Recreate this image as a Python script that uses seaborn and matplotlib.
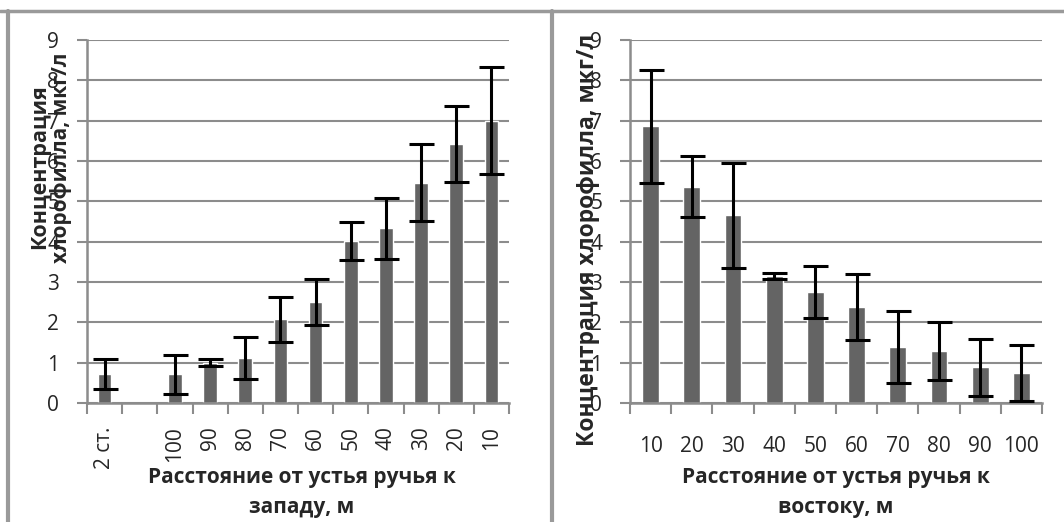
import numpy as np
import pandas as pd
import matplotlib
matplotlib.use("Agg")
import matplotlib.pyplot as plt
from matplotlib.lines import Line2D
import seaborn as sns

# Данные: к западу от устья ручья
west_labels = ["2 ст.", " ", "100", "90", "80", "70", "60", "50", "40", "30", "20", "10"]
west_values = [0.72, np.nan, 0.71, 1.00, 1.11, 2.07, 2.50, 4.02, 4.33, 5.46, 6.42, 7.00]
west_errors = [0.38, np.nan, 0.48, 0.08, 0.52, 0.57, 0.57, 0.47, 0.76, 0.95, 0.94, 1.32]

# Данные: к востоку от устья ручья
east_labels = ["10", "20", "30", "40", "50", "60", "70", "80", "90", "100"]
east_values = [6.86, 5.36, 4.65, 3.15, 2.75, 2.37, 1.38, 1.28, 0.88, 0.75]
east_errors = [1.40, 0.76, 1.30, 0.07, 0.64, 0.82, 0.89, 0.72, 0.70, 0.70]

sns.set_style("white")
plt.rcParams["font.family"] = ["Open Sans", "DejaVu Sans"]

GRID = "#8c8c8c"
BAR = "#646464"

fig = plt.figure(figsize=(10.64, 5.22), dpi=100)
ax1 = fig.add_axes([87 / 1064, 0.228, 422 / 1064, 0.6954])
ax2 = fig.add_axes([630 / 1064, 0.228, 412 / 1064, 0.6954])


def draw_panel(ax, labels, values, errors, width, rot, xpad):
    df = pd.DataFrame({"cat": labels, "val": values})
    sns.barplot(data=df, x="cat", y="val", order=labels, color=BAR,
                saturation=1, width=width, errorbar=None, ax=ax)
    pos = np.arange(len(labels))
    ax.errorbar(pos, values, yerr=errors, fmt="none", ecolor="black",
                elinewidth=2.2, capsize=9, capthick=2.2, zorder=5)
    ax.set_xlim(-0.5, len(labels) - 0.5)
    ax.set_ylim(0, 9)
    ax.set_yticks(range(0, 10))
    ax.yaxis.grid(True, color=GRID, linewidth=1.5)
    ax.set_axisbelow(True)
    for s in ["top", "right"]:
        ax.spines[s].set_visible(False)
    for s in ["left", "bottom"]:
        ax.spines[s].set_color(GRID)
        ax.spines[s].set_linewidth(1.8)
    ax.tick_params(axis="y", length=7, width=1.5, color=GRID, pad=13,
                   labelsize=15, left=True)
    ax.set_xticks(pos)
    ax.set_xticklabels(labels, rotation=rot, fontsize=15)
    ax.tick_params(axis="x", length=0, pad=xpad)
    ax.set_xticks(np.arange(len(labels) + 1) - 0.5, minor=True)
    ax.tick_params(axis="x", which="minor", length=8, width=1.5,
                   color=GRID, bottom=True)
    ax.set_xlabel("")
    ax.set_ylabel("")


draw_panel(ax1, west_labels, west_values, west_errors, 0.39, 90, 17)
draw_panel(ax2, east_labels, east_values, east_errors, 0.41, 0, 24)

lab = dict(fontweight="bold", ha="center", va="center")
fig.text(302 / 1064, 1 - 478 / 522, "Расстояние от устья ручья к", fontsize=15, **lab)
fig.text(302 / 1064, 1 - 508 / 522, "западу, м", fontsize=15, **lab)
fig.text(836 / 1064, 1 - 478 / 522, "Расстояние от устья ручья к", fontsize=15, **lab)
fig.text(836 / 1064, 1 - 508 / 522, "востоку, м", fontsize=15, **lab)

fig.text(40 / 1064, 1 - 167 / 522, "Концентрация", rotation=90, fontsize=15.5, **lab)
fig.text(61 / 1064, 1 - 158 / 522, "хлорофилла, мкг/л", rotation=90, fontsize=15, **lab)
fig.text(588 / 1064, 1 - 240 / 522, "Концентрация хлорофилла, мкг/л",
         rotation=90, fontsize=16.5, **lab)

# рамки диаграмм
frame = dict(color="#9a9a9a", transform=fig.transFigure)
fig.add_artist(Line2D([0, 1], [1 - 11 / 522] * 2, linewidth=2.5, **frame))
fig.add_artist(Line2D([8 / 1064] * 2, [0, 1 - 11 / 522], linewidth=3, **frame))
fig.add_artist(Line2D([552 / 1064] * 2, [0, 1 - 11 / 522], linewidth=3, **frame))

fig.savefig("out.png", dpi=100)
